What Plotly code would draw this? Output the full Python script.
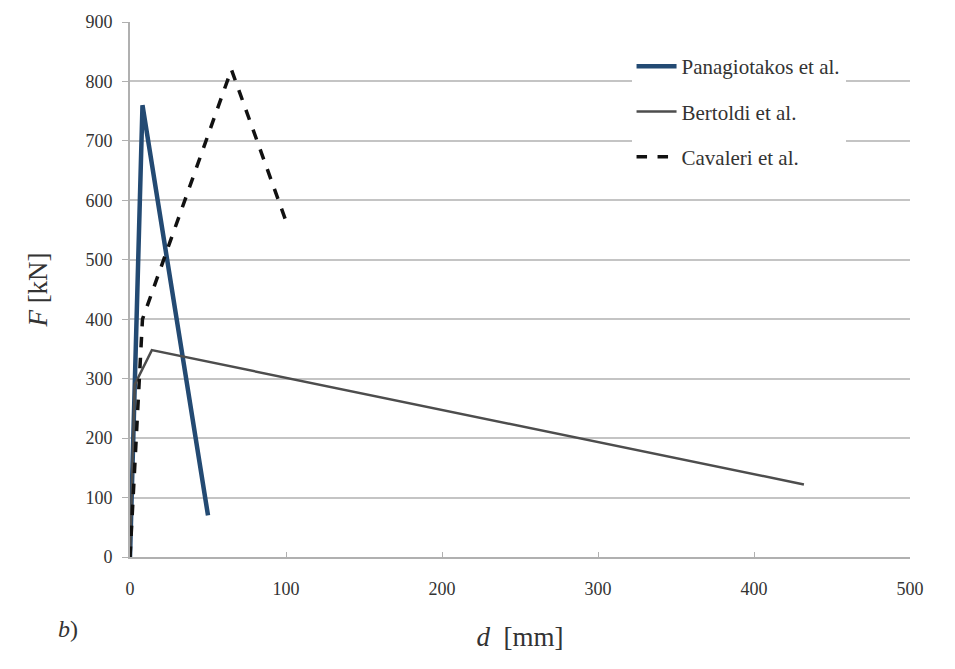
import plotly.graph_objects as go

# Data
pan_d = [0, 8, 50]
pan_F = [0, 760, 70]

ber_d = [0, 3, 14, 432]
ber_F = [0, 290, 348, 122]

cav_d = [0, 8, 65, 100]
cav_F = [0, 400, 820, 565]

x_ticks = [0, 100, 200, 300, 400, 500]
y_ticks = [0, 100, 200, 300, 400, 500, 600, 700, 800, 900]

FONT = "Liberation Serif"

fig = go.Figure()
fig.add_trace(go.Scatter(x=pan_d, y=pan_F, mode="lines", name="Panagiotakos et al.",
                         legendgroup="a",
                         line=dict(color="#234a73", width=4.5)))
fig.add_trace(go.Scatter(x=ber_d, y=ber_F, mode="lines", name="Bertoldi et al.",
                         legendgroup="b",
                         line=dict(color="#4d4d4d", width=2.5)))
fig.add_trace(go.Scatter(x=cav_d, y=cav_F, mode="lines", name="Cavaleri et al.",
                         legendgroup="c",
                         line=dict(color="#111111", width=3.5, dash="dash")))

fig.update_layout(
    width=955, height=669,
    margin=dict(l=130, r=45, t=20, b=112),
    paper_bgcolor="white", plot_bgcolor="white",
    font=dict(family=FONT, size=18, color="#333333"),
    showlegend=True,
    legend=dict(x=0.643, y=0.955, xanchor="left", yanchor="top",
                font=dict(family=FONT, size=21, color="#333333"),
                bgcolor="rgba(255,255,255,1)", tracegroupgap=15,
                itemwidth=40),
    xaxis=dict(range=[0, 500], tickvals=x_ticks, showgrid=False, zeroline=False,
               showline=True, linecolor="#b0b0b0", linewidth=2,
               ticks="inside", ticklen=5, tickcolor="#b0b0b0",
               ticklabelstandoff=14,
               tickfont=dict(family=FONT, size=18, color="#333333"),
               title=dict(text="<i>d</i>  [mm]", font=dict(family=FONT, size=27, color="#333333"),
                          standoff=30)),
    yaxis=dict(range=[0, 900], tickvals=y_ticks, showgrid=True, gridcolor="#c4c4c4", gridwidth=2,
               zeroline=False, showline=True, linecolor="#b0b0b0", linewidth=2,
               ticks="outside", ticklen=6, tickcolor="#b0b0b0",
               ticklabelstandoff=6,
               tickfont=dict(family=FONT, size=18, color="#333333"),
               title=dict(text="<i>F</i> [kN]", font=dict(family=FONT, size=27, color="#333333"),
                          standoff=30)),
)

fig.add_annotation(text="<i>b</i>)", xref="paper", yref="paper", x=-0.08, y=-0.135,
                   xanchor="center", yanchor="middle", showarrow=False,
                   font=dict(family=FONT, size=24, color="#333333"))

fig.write_html("out.html")
